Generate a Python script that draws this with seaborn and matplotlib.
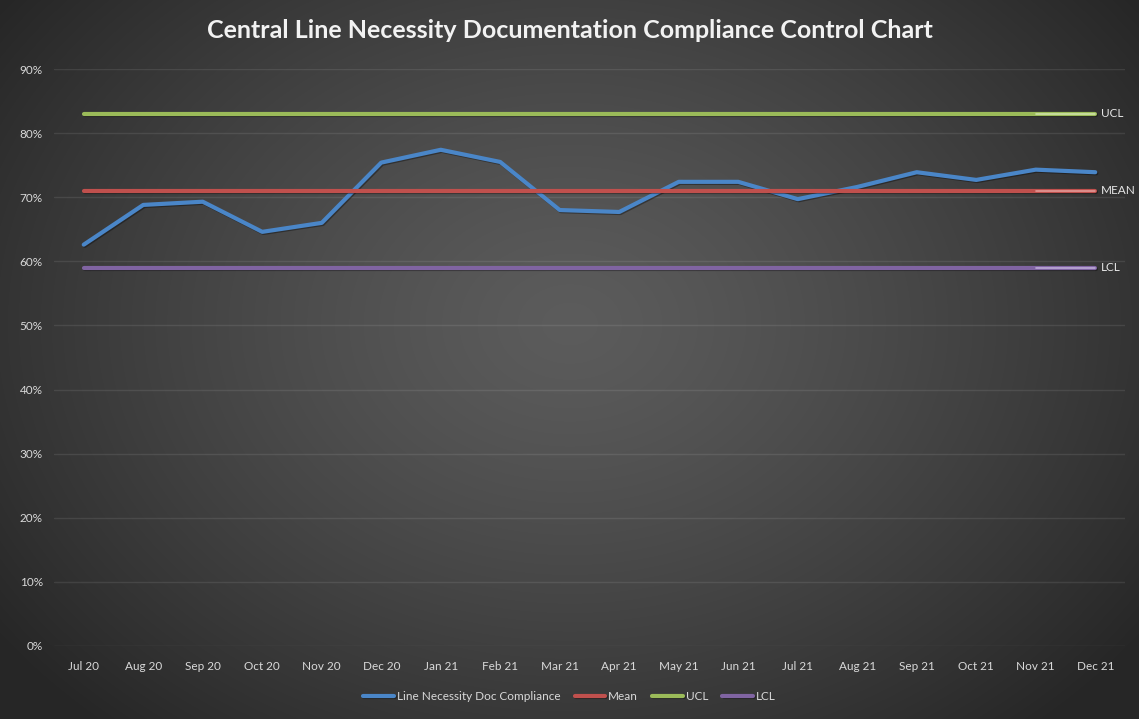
import numpy as np
import pandas as pd
import matplotlib
matplotlib.use("Agg")
import matplotlib.pyplot as plt
import matplotlib.patheffects as pe
import seaborn as sns

months = ["Jul 20", "Aug 20", "Sep 20", "Oct 20", "Nov 20", "Dec 20", "Jan 21", "Feb 21", "Mar 21",
          "Apr 21", "May 21", "Jun 21", "Jul 21", "Aug 21", "Sep 21", "Oct 21", "Nov 21", "Dec 21"]
compliance = [0.626, 0.688, 0.693, 0.646, 0.660, 0.754, 0.774, 0.755, 0.680,
              0.677, 0.724, 0.724, 0.697, 0.716, 0.739, 0.727, 0.743, 0.739]
mean_val = 0.71
ucl_val = 0.83
lcl_val = 0.59
yticks = [0, 0.1, 0.2, 0.3, 0.4, 0.5, 0.6, 0.7, 0.8, 0.9]

sns.set_theme(style="dark")
plt.rcParams['font.family'] = ['Lato', 'DejaVu Sans']

W, H = 1139, 719
fig = plt.figure(figsize=(W / 100, H / 100), dpi=100)

# radial gradient background
bg = fig.add_axes([0, 0, 1, 1], zorder=-10)
yy, xx = np.mgrid[0:H, 0:W]
r = np.sqrt(((xx - W * 0.5) / (W * 0.62)) ** 2 + ((yy - H * 0.45) / (H * 0.75)) ** 2)
r = np.clip(r, 0, 1)
c0, c1 = 0.36, 0.15
img = c0 + (c1 - c0) * r ** 1.3
bg.imshow(np.dstack([img, img, img]), aspect='auto', extent=[0, 1, 0, 1], interpolation='bilinear')
bg.set_axis_off()

ax = fig.add_axes([54 / W, 1 - 646 / H, (1125 - 54) / W, (646 - 69) / H])
ax.set_facecolor('none')
ax.patch.set_alpha(0)

df = pd.DataFrame({
    "Month": months,
    "Line Necessity Doc Compliance": compliance,
    "Mean": [mean_val] * len(months),
    "UCL": [ucl_val] * len(months),
    "LCL": [lcl_val] * len(months),
})
long = df.melt(id_vars="Month", var_name="Series", value_name="Value")
palette = {"Line Necessity Doc Compliance": "#4a86c8", "Mean": "#c0504d",
           "UCL": "#9bbb59", "LCL": "#8064a2"}
order = ["Line Necessity Doc Compliance", "Mean", "UCL", "LCL"]
sns.lineplot(data=long, x="Month", y="Value", hue="Series", hue_order=order, palette=palette,
             linewidth=3.0, ax=ax, sort=False)

shadow = [pe.SimpleLineShadow(offset=(0.8, -0.8), shadow_color='black', alpha=0.35), pe.Normal()]
for ln in ax.lines:
    ln.set_path_effects(shadow)
    ln.set_solid_capstyle('round')
    ln.set_solid_joinstyle('round')

handles, labels = ax.get_legend_handles_labels()
ax.legend_.remove()

# highlighted last segment of control lines (label leader)
highlight = {"Mean": "#f0b8b6", "UCL": "#e4f2c8", "LCL": "#d6c8ec"}
for name, col in highlight.items():
    seg = df[["Month", name]].iloc[-2:]
    sns.lineplot(x=seg["Month"], y=seg[name], color=col, linewidth=1.2, alpha=0.7,
                 ax=ax, sort=False, legend=False)

ax.set_xlim(-0.5, len(months) - 0.5)
ax.set_ylim(0, 0.9)
ax.set_yticks(yticks)
ax.set_yticklabels([f"{int(round(v * 100))}%" for v in yticks])
ax.grid(axis='y', color='white', alpha=0.09, linewidth=1.0)
ax.grid(axis='x', visible=False)
for s in ax.spines.values():
    s.set_visible(False)
ax.tick_params(axis='both', colors='#d9d9d9', labelsize=8.5, length=0)
ax.tick_params(axis='x', pad=11)
ax.tick_params(axis='y', pad=8)
ax.set_xlabel("")
ax.set_ylabel("")

# end labels
last = len(months) - 1
for val, txt in [(ucl_val, "UCL"), (mean_val, "MEAN"), (lcl_val, "LCL")]:
    ax.text(last + 0.1, val, txt, color='#e6e6e6', fontsize=8.5, va='center', ha='left', clip_on=False)

fig.suptitle("Central Line Necessity Documentation Compliance Control Chart", y=0.973,
             color='#f2f2f2', fontsize=18, fontweight='bold')

leg = fig.legend(handles, labels, loc='center', bbox_to_anchor=(0.5, 1 - 697 / H), ncol=4,
                 frameon=False, fontsize=8.5, labelcolor='#d9d9d9', handlelength=2.6,
                 handletextpad=0.25, columnspacing=1.2)
for h in leg.legend_handles:
    h.set_linewidth(3.0)

fig.savefig("out.png", dpi=100)
